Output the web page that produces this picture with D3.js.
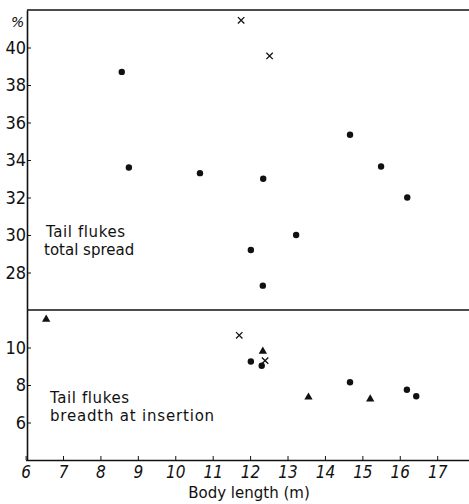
<!DOCTYPE html>
<html>
<head>
<meta charset="utf-8">
<script src="https://cdn.jsdelivr.net/npm/d3@7"></script>
<style>
  body { margin: 0; background: #fff; }
  svg { display: block; }
  .tick text { font-family: "Liberation Sans Narrow", "DejaVu Sans Condensed", sans-serif; fill: #111; }
  .lbl { font-family: "DejaVu Sans", sans-serif; fill: #111; }
</style>
</head>
<body>
<div id="chart"></div>
<script>
// tail flukes, total spread (%) vs body length (m)
var spreadDots = [
  [8.57, 38.7], [8.76, 33.6], [10.66, 33.3], [12.35, 33.0], [12.02, 29.2],
  [12.34, 27.3], [13.23, 30.0], [14.67, 35.35], [15.5, 33.65], [16.2, 32.0]
];
var spreadCross = [[11.76, 41.45], [12.52, 39.55]];

// tail flukes, breadth at insertion (%)
var breadthDots = [[12.02, 9.25], [12.31, 9.03], [14.67, 8.15], [16.19, 7.75], [16.44, 7.4]];
var breadthCross = [[11.71, 10.65], [12.4, 9.3]];
var breadthTri = [[6.55, 11.5], [12.34, 9.8], [13.56, 7.35], [15.21, 7.25]];

var xTicks = d3.range(6, 18);
var spreadTicks = [28, 30, 32, 34, 36, 38, 40];
var breadthTicks = [6, 8, 10];

var W = 469, H = 504;
var svg = d3.select("#chart").append("svg")
    .attr("width", W).attr("height", H);

var x = d3.scaleLinear().domain([6, 17.85]).range([25.6, 469]);
var yTop = d3.scaleLinear().domain([26, 42]).range([310, 10]);
var yBot = d3.scaleLinear().domain([4, 12]).range([460, 310]);

// frame lines
svg.append("line").attr("x1", 27).attr("x2", W).attr("y1", 10).attr("y2", 10)
  .attr("stroke", "#111").attr("stroke-width", 1.6);
svg.append("line").attr("x1", 27).attr("x2", W).attr("y1", 310).attr("y2", 310)
  .attr("stroke", "#111").attr("stroke-width", 1.6);

// y axes
function leftAxis(scale, ticks) {
  var g = svg.append("g").attr("transform", "translate(27,0)")
    .call(d3.axisLeft(scale).tickValues(ticks).tickSize(-4).tickPadding(1).tickSizeOuter(0));
  g.select(".domain").attr("stroke", "#111").attr("stroke-width", 1.6);
  g.selectAll(".tick line").attr("stroke", "#111");
  g.selectAll(".tick text").attr("font-size", 18);
  return g;
}
leftAxis(yTop, spreadTicks);
leftAxis(yBot, breadthTicks);

// x axis
var gx = svg.append("g").attr("transform", "translate(0,460)")
  .call(d3.axisBottom(x).tickValues(xTicks).tickSize(-4).tickPadding(6).tickSizeOuter(0));
gx.select(".domain").attr("stroke", "#111").attr("stroke-width", 1.6);
gx.selectAll(".tick line").attr("stroke", "#111");
gx.selectAll(".tick text").attr("font-size", 17).attr("font-style", "italic");

// labels
svg.append("text").attr("class", "lbl").attr("x", 11).attr("y", 27)
  .attr("font-size", 14).attr("font-style", "italic").text("%");
svg.append("text").attr("class", "lbl").attr("x", 46).attr("y", 237)
  .attr("font-size", 15).attr("letter-spacing", 0.6).text("Tail flukes");
svg.append("text").attr("class", "lbl").attr("x", 44).attr("y", 255)
  .attr("font-size", 15).text("total spread");
svg.append("text").attr("class", "lbl").attr("x", 50).attr("y", 403)
  .attr("font-size", 15).attr("letter-spacing", 0.6).text("Tail flukes");
svg.append("text").attr("class", "lbl").attr("x", 50).attr("y", 421)
  .attr("font-size", 15).attr("letter-spacing", 0.8).text("breadth at insertion");
svg.append("text").attr("class", "lbl").attr("x", 249).attr("y", 498)
  .attr("text-anchor", "middle").attr("font-size", 15).text("Body length (m)");

// marks
function dots(data, y) {
  svg.append("g").selectAll("circle").data(data).join("circle")
    .attr("cx", d => x(d[0])).attr("cy", d => y(d[1])).attr("r", 3.2).attr("fill", "#111");
}
function crosses(data, y) {
  svg.append("g").selectAll("path").data(data).join("path")
    .attr("d", d => {
      var cx = x(d[0]), cy = y(d[1]), s = 3.2;
      return "M" + (cx - s) + "," + (cy - s) + "L" + (cx + s) + "," + (cy + s) +
             "M" + (cx - s) + "," + (cy + s) + "L" + (cx + s) + "," + (cy - s);
    })
    .attr("stroke", "#111").attr("stroke-width", 1.3).attr("fill", "none");
}
function triangles(data, y) {
  svg.append("g").selectAll("path").data(data).join("path")
    .attr("transform", d => "translate(" + x(d[0]) + "," + y(d[1]) + ")")
    .attr("d", d3.symbol(d3.symbolTriangle, 30))
    .attr("fill", "#111");
}
dots(spreadDots, yTop);
crosses(spreadCross, yTop);
dots(breadthDots, yBot);
crosses(breadthCross, yBot);
triangles(breadthTri, yBot);
</script>
</body>
</html>
